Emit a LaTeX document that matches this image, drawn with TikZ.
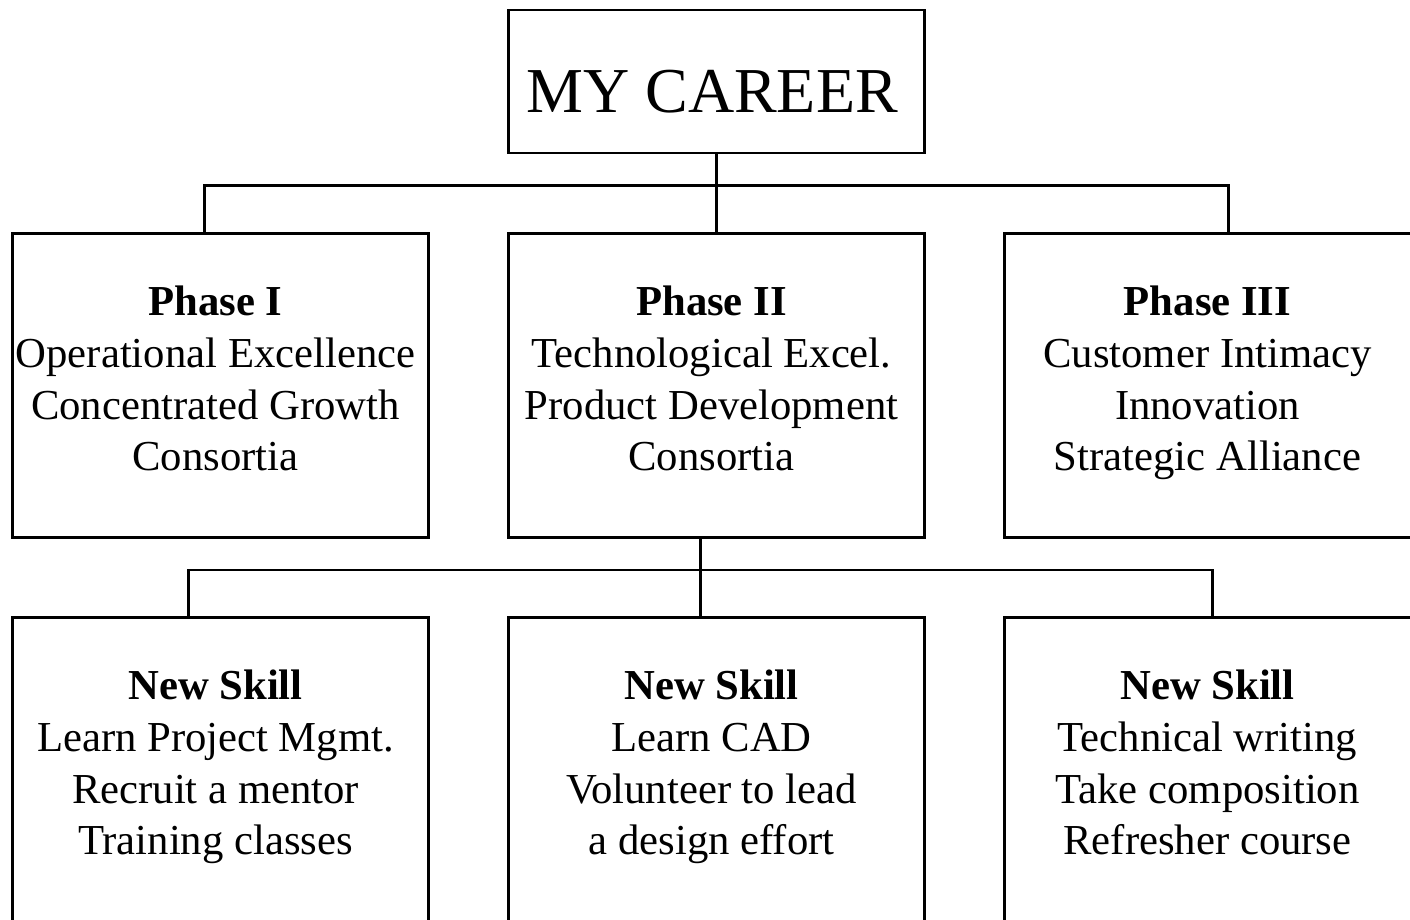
\documentclass[tikz,border=0pt]{standalone}
\usepackage{fontspec}
\setmainfont{Liberation Serif}
% Centred block of lines, nudged slightly left and up inside its box
\newcommand{\boxlines}[1]{\raisebox{2.5pt}[\height][\depth]{\begin{tabular}{@{}c@{}}#1\end{tabular}}\rule{10pt}{0pt}}
\begin{document}
\begin{tikzpicture}[x=1pt,y=-1pt,
  frame/.style={draw=black,line width=2.2pt,inner sep=0pt,
    minimum width=416pt,minimum height=304pt,
    font=\fontsize{42.7}{51.6}\selectfont},
  titlebox/.style={frame,minimum height=143pt,
    font=\fontsize{64}{70}\selectfont,text height=62.4pt,text depth=0pt},
  conn/.style={draw=black,line width=2.2pt,line cap=rect}]
\useasboundingbox (0,0) rectangle (1410,919);
\clip (0,0) rectangle (1410,919);
\fill[white] (0,0) rectangle (1410,919);

% top level
\node[titlebox] (top) at (716.5,81.5) {MY CAREER\rule{9pt}{0pt}};

% phases
\node[frame] (p1) at (220.5,385.5) {\boxlines{\textbf{Phase I}\\Operational Excellence\\Concentrated Growth\\Consortia}};
\node[frame] (p2) at (716.5,385.5) {\boxlines{\textbf{Phase II}\\Technological Excel.\\Product Development\\Consortia}};
\node[frame] (p3) at (1212.5,385.5) {\boxlines{\textbf{Phase III}\\Customer Intimacy\\Innovation\\Strategic Alliance}};

% skills
\node[frame] (s1) at (220.5,769.5) {\boxlines{\textbf{New Skill}\\Learn Project Mgmt.\\Recruit a mentor\\Training classes}};
\node[frame] (s2) at (716.5,769.5) {\boxlines{\textbf{New Skill}\\Learn CAD\\Volunteer to lead\\a design effort}};
\node[frame] (s3) at (1212.5,769.5) {\boxlines{\textbf{New Skill}\\Technical writing\\Take composition\\Refresher course}};

% bus from the title to the phases
\coordinate (u1) at (204.5,185.5);
\coordinate (u2) at (716.5,185.5);
\coordinate (u3) at (1228.5,185.5);
\draw[conn] (top.south) -- (p2.north);
\draw[conn] (u1) -- (u3);
\draw[conn] (u1) -- (u1 |- p1.north);
\draw[conn] (u3) -- (u3 |- p3.north);

% bus from phase II to the skills
\coordinate (d1) at (188.5,569.7);
\coordinate (d2) at (700.5,569.7);
\coordinate (d3) at (1212.5,569.7);
\draw[conn] (d2 |- p2.south) -- (d2 |- s2.north);
\draw[conn] (d1) -- (d3);
\draw[conn] (d1) -- (d1 |- s1.north);
\draw[conn] (d3) -- (d3 |- s3.north);
\end{tikzpicture}
\end{document}
